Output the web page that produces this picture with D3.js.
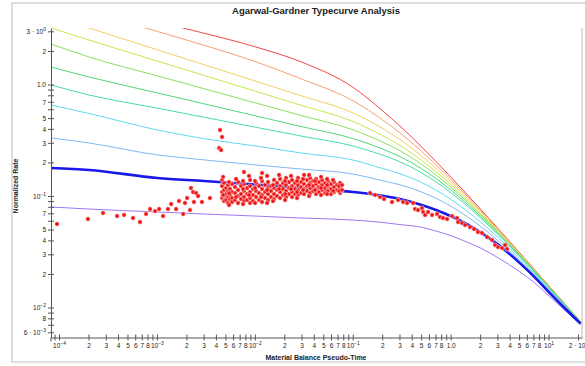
<!DOCTYPE html>
<html><head><meta charset="utf-8">
<script src="https://cdn.jsdelivr.net/npm/d3@7"></script>
<style>body{margin:0;background:#fff;} svg{display:block;font-family:"Liberation Sans",Arial,sans-serif;}</style>
</head><body><svg id="chart" width="585" height="366"></svg>
<script>
// ---------- DATA ----------
const curveTimes = [8.2e-5, 2e-4, 1e-3, 3e-3, 1e-2, 3e-2, 0.1, 0.2, 0.3, 0.5, 0.7, 1, 1.5, 2, 3, 5, 7, 10, 15, 21];
const rateRed         = [5.2, 4.5, 3.66, 2.91, 2.2, 1.6, 0.95, 0.5858, 0.4283, 0.2784, 0.2063, 0.1485, 0.1013, 0.07683, 0.05181, 0.03138, 0.02251, 0.0158, 0.01056, 0.007553];
const rateOrange      = [5.64, 4.52, 3.02, 2.27, 1.62, 1.128, 0.72, 0.4861, 0.3724, 0.2537, 0.1924, 0.1412, 0.0978, 0.07482, 0.05089, 0.03104, 0.02233, 0.01572, 0.01052, 0.007533];
const rateYellow      = [4.17, 3.245, 2.067, 1.519, 1.085, 0.797, 0.56, 0.407, 0.3241, 0.2303, 0.1786, 0.1336, 0.0941, 0.07264, 0.04988, 0.03066, 0.02213, 0.01562, 0.010477, 0.00751];
const rateYellowGreen = [3.245, 2.53, 1.639, 1.218, 0.880, 0.654, 0.47, 0.35, 0.2869, 0.2109, 0.1667, 0.1269, 0.0907, 0.07059, 0.0489, 0.03029, 0.02194, 0.01552, 0.010433, 0.007488];
const rateLightGreen  = [2.332, 1.783, 1.207, 0.926, 0.6915, 0.5302, 0.3956, 0.307, 0.2574, 0.1945, 0.1563, 0.1207, 0.0875, 0.06865, 0.04796, 0.02993, 0.02175, 0.01542, 0.01039, 0.007466];
const rateGreen       = [1.45, 1.18, 0.8486, 0.6775, 0.5291, 0.4223, 0.3303, 0.2662, 0.228, 0.1772, 0.145, 0.1139, 0.0839, 0.06637, 0.04684, 0.02948, 0.02151, 0.01531, 0.010336, 0.007438];
const rateSeaGreen    = [1.0, 0.814, 0.6193, 0.5137, 0.4184, 0.3473, 0.2834, 0.2349, 0.2047, 0.1628, 0.1352, 0.1077, 0.0805, 0.06424, 0.04577, 0.02906, 0.02128, 0.01519, 0.010283, 0.00741];
const rateCyan        = [0.662, 0.555, 0.395, 0.33, 0.284, 0.245, 0.212, 0.178, 0.1601, 0.1333, 0.1142, 0.094, 0.07254, 0.05908, 0.04308, 0.02795, 0.02069, 0.01488, 0.010141, 0.007336];
const rateLightBlue   = [0.335, 0.302, 0.236, 0.213, 0.192, 0.176, 0.159, 0.1384, 0.1273, 0.1097, 0.09645, 0.08161, 0.06496, 0.05395, 0.04029, 0.02675, 0.02002, 0.01453, 0.009978, 0.007251];
const rateBlue        = [0.180, 0.173, 0.1465, 0.1377, 0.128, 0.1192, 0.1097, 0.1015, 0.095, 0.084, 0.0757, 0.0665, 0.0556, 0.0477, 0.0372, 0.0254, 0.0192, 0.0138, 0.00965, 0.00725];
const ratePurple      = [0.0805, 0.0772, 0.0726, 0.0697, 0.0668, 0.0641, 0.0615, 0.0585, 0.056, 0.053, 0.049, 0.0445, 0.0385, 0.0345, 0.0283, 0.0212, 0.0170, 0.0128, 0.0093, 0.0071];

// measured data points [time, normalized rate]
const dataEarly = [[9.43e-5,0.0567],[1.95e-4,0.0628],[2.78e-4,0.0711],[3.87e-4,0.0668],[4.56e-4,0.0683],[5.63e-4,0.0641],[6.64e-4,0.0591],[7.65e-4,0.0697],[8.40e-4,0.0772],[9.45e-4,0.074],[1.04e-3,0.0772],[1.14e-3,0.0668],[1.28e-3,0.0772],[1.38e-3,0.0856],[1.55e-3,0.0772],[1.66e-3,0.0911],[1.83e-3,0.0697],[1.91e-3,0.0875],[2.01e-3,0.0969],[2.15e-3,0.0756],[2.20e-3,0.1192],[2.31e-3,0.1097],[2.36e-3,0.0893],[2.48e-3,0.1075],[2.60e-3,0.101],[2.85e-3,0.0893],[3.44e-3,0.0969],
  [4.36e-3,0.395],[4.57e-3,0.342],[4.26e-3,0.272],[4.47e-3,0.261]];
const dataMiddle = [
  [4.57e-3,[0.1406,0.1242,0.1097,0.0969]],[4.79e-3,[0.1322,0.1144,0.101,0.0911]],[5.02e-3,[0.1192,0.1053,0.093]],
  [5.26e-3,[0.1268,0.112,0.099,0.0875]],[5.51e-3,[0.1168,0.1031,0.095]],[5.78e-3,[0.1295,0.1097,0.0969,0.0893]],
  [6.20e-3,[0.1217,0.1075,0.093]],[6.66e-3,[0.1349,0.1144,0.101,0.0875]],[7.14e-3,[0.1242,0.1053,0.095]],
  [7.66e-3,[0.1659,0.1295,0.112,0.099,0.0911]],[8.23e-3,[0.1192,0.1053,0.093]],[8.83e-3,[0.1406,0.1242,0.1097,0.0969,0.0875]],
  [9.47e-3,[0.1168,0.1031,0.0911]],[0.01017,[0.1322,0.112,0.099]],[0.01091,[0.1242,0.1075,0.093]],
  [0.01171,[0.1625,0.1377,0.1168,0.1031,0.0893]],[0.01256,[0.1268,0.1097,0.0969]],[0.01348,[0.1349,0.1192,0.1053,0.093]],
  [0.01446,[0.1242,0.112,0.099]],[0.01552,[0.1406,0.1192,0.1053,0.095]],[0.01666,[0.1322,0.1144,0.101]],
  [0.01788,[0.1435,0.1242,0.1097,0.0969]],[0.01918,[0.1322,0.1168,0.1031]],[0.02058,[0.1465,0.1268,0.112,0.099]],
  [0.02209,[0.1349,0.1192,0.1053]],[0.0237,[0.1406,0.1242,0.1097,0.099]],[0.02543,[0.1322,0.1168,0.1053]],
  [0.02729,[0.1465,0.1268,0.1144,0.1031]],[0.02929,[0.1349,0.1217,0.1075]],[0.03143,[0.1559,0.1295,0.1168,0.1053]],
  [0.03373,[0.1406,0.1242,0.112]],[0.0362,[0.1465,0.1322,0.1192,0.1075]],[0.03884,[0.1377,0.1242,0.112]],
  [0.04169,[0.1435,0.1295,0.1168,0.1053]],[0.04473,[0.1349,0.1217,0.1097]],[0.048,[0.1406,0.1268,0.1144]],
  [0.0515,[0.1322,0.1192,0.1075]],[0.05527,[0.1377,0.1242,0.112]],[0.05931,[0.1295,0.1168,0.1053]],
  [0.06365,[0.1349,0.1217,0.1097]],[0.06831,[0.1268,0.1144]],[0.0733,[0.1322,0.1192,0.1075]],
  [4.68e-3,[0.150,0.1031]],[5.39e-3,[0.1349,0.1075,0.0839]],[6.35e-3,[0.1435,0.099]],[7.49e-3,[0.1377,0.1168,0.0856]],
  [8.62e-3,[0.153,0.1031]],[9.93e-3,[0.1377,0.1192,0.0874]],[0.01143,[0.1465,0.099]],[0.01317,[0.153,0.1144,0.0874]],
  [0.01516,[0.1268,0.0911]],[0.01746,[0.1559,0.1168]],[0.0201,[0.1377,0.1053,0.093]],[0.02315,[0.153,0.1168]],
  [0.02666,[0.1377,0.1097,0.0969]],[0.0307,[0.1435,0.1144]],[0.03536,[0.1559,0.1268,0.101]],[0.0407,[0.1377,0.1144]],
  [0.0469,[0.150,0.1192,0.1031]],[0.054,[0.1435,0.1268,0.1053]],[0.0622,[0.1406,0.112]],[0.0716,[0.1242,0.112]],
  [0.0768,[0.1268,0.1144]]
];
const dataLate = [[0.1485,0.1075],[0.167,0.1031],[0.1878,0.099],[0.2063,0.095],[0.249,0.0893],[0.2868,0.093],[0.3227,0.0893],[0.3544,0.0875],[0.4081,0.0875],[0.4278,0.0772],[0.459,0.0756],[0.5043,0.0788],[0.5163,0.0726],[0.5413,0.0683],[0.5808,0.0726],[0.6381,0.0683],[0.7177,0.0697],[0.77,0.0655],[0.8264,0.0641],[0.9081,0.0628],[1.021,0.0668],[1.149,0.0641],[1.176,0.0591],[1.292,0.0578],[1.387,0.0555],[1.56,0.0533],[1.713,0.0511],[1.882,0.048],[2.068,0.0471],[2.326,0.0433],[2.616,0.0407],[2.808,0.0367],[3.013,0.0352],[3.311,0.0345],[3.552,0.0367],[3.724,0.0338]];

const xTickValues = [9e-5,1e-4,2e-4,3e-4,4e-4,5e-4,6e-4,7e-4,8e-4,9e-4,1e-3,2e-3,3e-3,4e-3,5e-3,6e-3,7e-3,8e-3,9e-3,1e-2,2e-2,3e-2,4e-2,5e-2,6e-2,7e-2,8e-2,9e-2,0.1,0.2,0.3,0.4,0.5,0.6,0.7,0.8,0.9,1,2,3,4,5,6,7,8,9,10,20];
const xTickLabels = ["","10^-4","2","3","4","5","6","7","8","","10^-3","2","3","4","5","6","7","8","","10^-2","2","3","4","5","6","7","8","","10^-1","2","3","4","5","6","7","8","","1.0","2","3","4","5","6","7","8","","10^1","2 · 10^1"];
const yTickValues = [3,2,1,0.9,0.8,0.7,0.6,0.5,0.4,0.3,0.2,0.1,0.09,0.08,0.07,0.06,0.05,0.04,0.03,0.02,0.01,0.009,0.008,0.007,0.006];
const yTickLabels = ["3 · 10^0","2","1.0","","","7","","5","4","3","2","10^-1","","","7","","5","4","3","2","10^-2","","8","","6 · 10^-3"];

const titleText = "Agarwal-Gardner Typecurve Analysis";
const xTitle = "Material Balance Pseudo-Time";
const yTitle = "Normalized Rate";

// ---------- STYLE ----------
const series = [
  {rates: rateRed, color: "#f04848", w: 1},
  {rates: rateOrange, color: "#f8a070", w: 1},
  {rates: rateYellow, color: "#f0d060", w: 1},
  {rates: rateYellowGreen, color: "#c0e850", w: 1},
  {rates: rateLightGreen, color: "#88e060", w: 1},
  {rates: rateGreen, color: "#50d878", w: 1},
  {rates: rateSeaGreen, color: "#48d8b0", w: 1},
  {rates: rateCyan, color: "#60d8f0", w: 1},
  {rates: rateLightBlue, color: "#80b8f4", w: 1},
  {rates: ratePurple, color: "#a078f0", w: 1},
  {rates: rateBlue, color: "#1818e8", w: 2.6}
];

const svg = d3.select("#chart");
const L = 51, R = 582, T = 28, B = 337.5;
const x = d3.scaleLog().domain([8.18e-5, 21.7]).range([L, R]);
const y = d3.scaleLog().domain([5.44e-3, 3.245]).range([B, T]);

svg.append("rect").attr("x", 12).attr("y", 3).attr("width", 580).attr("height", 359)
  .attr("fill", "none").attr("stroke", "#d4d4d4").attr("stroke-width", 1.5);
svg.append("line").attr("x1", R).attr("x2", R).attr("y1", T).attr("y2", B)
  .attr("stroke", "#b8b8b8").attr("stroke-width", 1);

svg.append("text").attr("x", 316).attr("y", 14).attr("text-anchor", "middle")
  .attr("font-size", 9.5).attr("font-weight", "bold").attr("fill", "#222").text(titleText);
svg.append("text").attr("x", 316).attr("y", 360).attr("text-anchor", "middle")
  .attr("font-size", 7).attr("font-weight", "bold").attr("fill", "#222").text(xTitle);
svg.append("text").attr("transform", "translate(18,186) rotate(-90)").attr("text-anchor", "middle")
  .attr("font-size", 7).attr("font-weight", "bold").attr("fill", "#222").text(yTitle);

svg.append("clipPath").attr("id", "clip").append("rect")
  .attr("x", L).attr("y", T).attr("width", R - L).attr("height", B - T);

const line = d3.line().x(d => x(d[0])).y(d => y(d[1])).curve(d3.curveMonotoneX);
const g = svg.append("g").attr("clip-path", "url(#clip)");
series.forEach(s => {
  g.append("path").datum(curveTimes.map((t, i) => [t, s.rates[i]]))
    .attr("d", line).attr("fill", "none").attr("stroke", s.color).attr("stroke-width", s.w);
});

const pts = dataEarly.concat(dataMiddle.flatMap(([t, qs]) => qs.map(q => [t, q]))).concat(dataLate);
g.selectAll("circle.pt").data(pts).enter().append("circle")
  .attr("cx", d => x(d[0])).attr("cy", d => y(d[1])).attr("r", 2.2)
  .attr("fill", "#ee1414").attr("stroke", "#ffd6d6").attr("stroke-width", 0.6);

function label(sel, str) {
  const parts = str.split("^");
  sel.append("tspan").text(parts[0]);
  if (parts.length > 1) {
    sel.append("tspan").attr("dy", -3).attr("font-size", 5).text(parts[1].replace("-", "−"));
  }
}

const xAxis = d3.axisBottom(x).tickValues(xTickValues).tickSize(0).tickFormat("");
const xg = svg.append("g").attr("transform", `translate(0,${B})`).call(xAxis);
xg.select(".domain").attr("stroke", "#555");
xTickValues.forEach((v, i) => {
  svg.append("line").attr("x1", x(v)).attr("x2", x(v)).attr("y1", B - 3).attr("y2", B + 3).attr("stroke", "#555");
  if (xTickLabels[i]) {
    const tx = svg.append("text").attr("x", x(v)).attr("y", B + 10).attr("text-anchor", "middle")
      .attr("font-size", 6.5).attr("fill", "#222");
    label(tx, xTickLabels[i]);
  }
});
const yAxis = d3.axisLeft(y).tickValues(yTickValues).tickSize(0).tickFormat("");
const yg = svg.append("g").attr("transform", `translate(${L},0)`).call(yAxis);
yg.select(".domain").attr("stroke", "#555");
svg.append("line").attr("x1", L).attr("x2", L).attr("y1", B).attr("y2", B + 4).attr("stroke", "#555");
yTickValues.forEach((v, i) => {
  svg.append("line").attr("x1", L - 3).attr("x2", L + 3).attr("y1", y(v)).attr("y2", y(v)).attr("stroke", "#555");
  if (yTickLabels[i]) {
    const ty = svg.append("text").attr("x", L - 5).attr("y", y(v) + 2.3).attr("text-anchor", "end")
      .attr("font-size", 6.5).attr("fill", "#222");
    label(ty, yTickLabels[i]);
  }
});
</script></body></html>
